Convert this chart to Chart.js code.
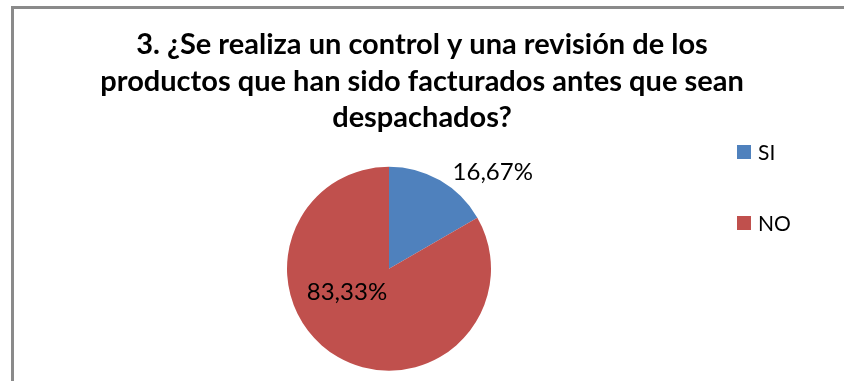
<!DOCTYPE html>
<html>
<head>
<meta charset="utf-8">
<script src="https://cdn.jsdelivr.net/npm/chart.js@4/dist/chart.umd.min.js"></script>
<style>
  html, body { margin: 0; padding: 0; background: #fff; overflow: hidden; }
  #wrap { position: relative; width: 844px; height: 381px; overflow: hidden; }
  #frame { position: absolute; left: 11px; top: 6px; width: 900px; height: 420px; border: 3px solid #8a8a8a; box-sizing: border-box; }
  canvas { position: absolute; left: 0; top: 0; }
</style>
</head>
<body>
<div id="wrap">
  <div id="frame"></div>
  <canvas id="c" width="844" height="381"></canvas>
</div>
<script>
const titleLines = [
  "3. ¿Se realiza un control y una revisión de los",
  "productos que han sido facturados antes que sean",
  "despachados?"
];
const categories = ["SI", "NO"];
const values = [16.67, 83.33];
const valueLabels = ["16,67%", "83,33%"];
const colors = ["#4F81BD", "#C0504D"];

const FONT = "Lato, 'Liberation Sans', sans-serif";

const overlay = {
  id: 'overlay',
  afterDraw(chart) {
    const ctx = chart.ctx;
    ctx.save();
    // title
    ctx.fillStyle = '#000';
    ctx.textAlign = 'center';
    ctx.textBaseline = 'alphabetic';
    ctx.font = "bold 29px " + FONT;
    const baselines = [54, 91, 127];
    titleLines.forEach((t, i) => ctx.fillText(t, 422, baselines[i]));

    // data labels
    const meta = chart.getDatasetMeta(0);
    ctx.font = "24px " + FONT;
    ctx.textBaseline = 'middle';
    meta.data.forEach((arc, i) => {
      const mid = (arc.startAngle + arc.endAngle) / 2;
      const R = arc.outerRadius;
      if (i === 0) {
        const x = arc.x + Math.cos(mid) * R * 1.05;
        const y = arc.y + Math.sin(mid) * R * 1.05;
        ctx.textAlign = 'left';
        ctx.fillText(valueLabels[i], x + 10, y - 4);
      } else {
        const x = arc.x + Math.cos(mid) * R * 0.55;
        const y = arc.y + Math.sin(mid) * R * 0.55;
        ctx.textAlign = 'center';
        ctx.fillText(valueLabels[i], x - 14, y - 25);
      }
    });

    // legend
    ctx.font = "21px " + FONT;
    ctx.textAlign = 'left';
    const ly = [152, 223];
    categories.forEach((c, i) => {
      ctx.fillStyle = colors[i];
      ctx.fillRect(737, ly[i] - 7, 14, 14);
      ctx.fillStyle = '#000';
      ctx.fillText(c, 758, ly[i] + 1);
    });
    ctx.restore();
  }
};

new Chart(document.getElementById('c'), {
  type: 'pie',
  data: {
    labels: categories,
    datasets: [{
      data: values,
      backgroundColor: colors,
      borderWidth: 0
    }]
  },
  options: {
    responsive: false,
    animation: false,
    events: [],
    layout: { padding: { top: 166.7, bottom: 10.3, left: 287, right: 353 } },
    plugins: {
      legend: { display: false },
      title: { display: false },
      tooltip: { enabled: false }
    }
  },
  plugins: [overlay]
});
</script>
</body>
</html>
